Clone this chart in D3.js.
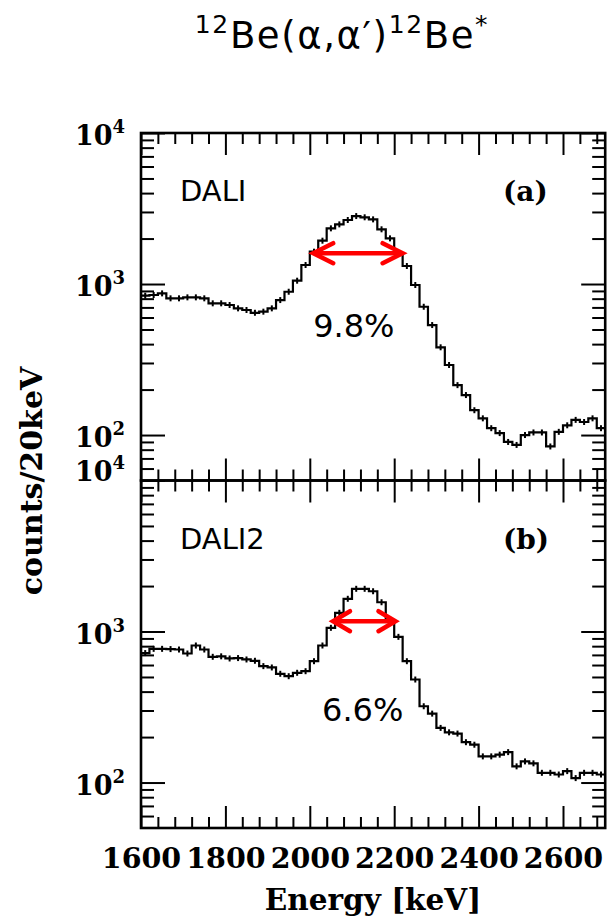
<!DOCTYPE html>
<html>
<head>
<meta charset="utf-8">
<script src="https://cdn.jsdelivr.net/npm/d3@7"></script>
<style>
  html, body { margin: 0; padding: 0; background: #fff; }
  svg { display: block; }
</style>
</head>
<body>
<svg id="chart" width="607" height="919"></svg>
<script>
// Gamma-ray energy spectra of 12Be(α,α′)12Be*, 20 keV bins from 1600 keV
const binStart = 1600;
const binWidth = 20;
const energyDomain = [1600, 2700];
const energyTicks = [1600, 1800, 2000, 2200, 2400, 2600];
const countsDomain = [50, 10000];
const decadeTicks = [100, 1000, 10000];

// (a) DALI
const countsDali = [
  837, 846, 867, 804, 804, 816, 816, 804, 745, 745,
  726, 690, 673, 645, 656, 690, 783, 889, 1052, 1336,
  1637, 1936, 2337, 2483, 2655, 2818, 2766, 2680, 2303, 2006,
  1597, 1316, 985, 707, 535, 381, 291, 214, 184, 146,
  129, 111, 103, 90, 86, 100, 104, 104, 84, 105,
  116, 126, 122, 129, 111
];

// (b) DALI2
const countsDali2 = [
  720, 768, 768, 765, 760, 715, 808, 760, 680, 685,
  663, 667, 653, 640, 590, 578, 525, 506, 533, 546,
  636, 808, 1058, 1330, 1647, 1918, 1918, 1848, 1563, 1183,
  922, 636, 481, 320, 286, 230, 215, 211, 185, 178,
  149, 149, 153, 159, 128, 138, 134, 116, 116, 113,
  119, 107, 116, 116, 113
];

const detectorNames = ["DALI", "DALI2"];
const panelTags = ["(a)", "(b)"];
const resolutionLabels = ["9.8%", "6.6%"];
// FWHM arrows: [low edge, high edge] in keV, and height in counts
const fwhmEdges = [[2008, 2220], [2055, 2203]];
const fwhmLevels = [1600, 1170];
// where the resolution text sits: [energy, counts]
const resolutionPos = [[2008, 445], [2029, 255]];

const svg = d3.select("#chart");
const left = 141, right = 605.2;
const panelTops = [133, 480.5];
const panelH = 347.5;

const x = d3.scaleLinear().domain(energyDomain).range([left, right]);

const serif = "'DejaVu Serif', serif";
const sans = "'DejaVu Sans', sans-serif";

// title with isotope superscripts
const title = svg.append("text")
  .attr("x", 342).attr("y", 48)
  .attr("text-anchor", "middle")
  .attr("font-family", sans)
  .attr("font-size", 37)
  .attr("letter-spacing", 1.6)
  .attr("fill", "#000");
function sup(t, s) {
  t.append("tspan").attr("font-size", 25).attr("dy", -15).text(s);
}
function base(t, s) {
  t.append("tspan").attr("font-size", 37).attr("dy", 15).text(s);
}
sup(title, "12");
base(title, "Be(α,α′)");
sup(title, "12");
base(title, "Be");
sup(title, "*");

const minorY = [];
[10, 100, 1000].forEach(d => {
  for (let k = 2; k <= 9; k++) {
    const v = k * d;
    if (v > countsDomain[0] && v < countsDomain[1]) minorY.push(v);
  }
});
const minorX = d3.range(1600, 2701, 40).filter(v => !energyTicks.includes(v));

const series = [countsDali, countsDali2];

series.forEach((counts, p) => {
  const top = panelTops[p];
  const bottom = top + panelH;
  const y = d3.scaleLog().domain(countsDomain).range([bottom, top]);
  const g = svg.append("g");

  // histogram steps
  const pts = counts.map((c, i) => [binStart + i * binWidth, c]);
  pts.push([binStart + counts.length * binWidth, counts[counts.length - 1]]);
  const line = d3.line()
    .x(d => x(d[0])).y(d => y(d[1]))
    .curve(d3.curveStepAfter);
  g.append("path")
    .attr("d", line(pts))
    .attr("fill", "none")
    .attr("stroke", "#000")
    .attr("stroke-width", 2.2)
    .attr("stroke-linejoin", "miter");

  // error bar ticks at bin centres
  g.selectAll("line.err").data(counts).join("line")
    .attr("class", "err")
    .attr("x1", (c, i) => x(binStart + (i + 0.5) * binWidth))
    .attr("x2", (c, i) => x(binStart + (i + 0.5) * binWidth))
    .attr("y1", c => y(c) - 3)
    .attr("y2", c => y(c) + 3)
    .attr("stroke", "#000")
    .attr("stroke-width", 2);

  // axes on all four sides, ticks pointing inward
  const ax = (gen, tx, ty) => {
    const a = g.append("g").attr("transform", `translate(${tx},${ty})`).call(gen);
    a.select(".domain").remove();
    a.selectAll("line").attr("stroke", "#000").attr("stroke-width", 2);
    return a;
  };
  ax(d3.axisLeft(y).tickValues(minorY).tickSize(-13).tickFormat(""), left, 0);
  ax(d3.axisLeft(y).tickValues(decadeTicks).tickSize(-24).tickFormat(""), left, 0);
  ax(d3.axisRight(y).tickValues(minorY).tickSize(-13).tickFormat(""), right, 0);
  ax(d3.axisRight(y).tickValues(decadeTicks).tickSize(-24).tickFormat(""), right, 0);
  ax(d3.axisTop(x).tickValues(minorX).tickSize(-11).tickFormat(""), 0, top);
  ax(d3.axisTop(x).tickValues(energyTicks).tickSize(-22).tickFormat(""), 0, top);
  ax(d3.axisBottom(x).tickValues(minorX).tickSize(-11).tickFormat(""), 0, bottom);
  const bx = ax(d3.axisBottom(x).tickValues(energyTicks).tickSize(-22)
    .tickPadding(p === 1 ? 20 : 0)
    .tickFormat(p === 1 ? d3.format("d") : ""), 0, bottom);
  bx.selectAll("text")
    .attr("font-family", serif)
    .attr("font-weight", "bold")
    .attr("font-size", 28.5)
    .attr("fill", "#000");

  // frame
  g.append("rect")
    .attr("x", left).attr("y", top)
    .attr("width", right - left).attr("height", panelH)
    .attr("fill", "none")
    .attr("stroke", "#000")
    .attr("stroke-width", 2.6);

  // decade labels 10^n; the label at the shared edge sits above its tick
  decadeTicks.forEach(v => {
    const shift = (p === 1 && v === countsDomain[1]) ? 0 : 12;
    const t = g.append("text")
      .attr("x", 125).attr("y", y(v) + shift)
      .attr("text-anchor", "end")
      .attr("font-family", serif)
      .attr("font-weight", "bold")
      .attr("font-size", 27)
      .attr("fill", "#000");
    t.append("tspan").text("10");
    t.append("tspan")
      .attr("font-size", 18)
      .attr("dy", -12)
      .text(Math.round(Math.log10(v)));
  });

  // detector name and panel tag
  g.append("text")
    .attr("x", 180).attr("y", top + 68)
    .attr("font-family", sans)
    .attr("font-size", 29)
    .attr("fill", "#000")
    .text(detectorNames[p]);
  g.append("text")
    .attr("x", 503).attr("y", top + 68)
    .attr("font-family", serif)
    .attr("font-weight", "bold")
    .attr("font-size", 28)
    .attr("fill", "#000")
    .text(panelTags[p]);

  // FWHM double arrow
  const [e0, e1] = fwhmEdges[p];
  const ay = y(fwhmLevels[p]);
  const x0 = x(e0), x1 = x(e1);
  const hl = p === 0 ? 20 : 17, hw = 10;
  const red = "#ff0000";
  g.append("line")
    .attr("x1", x0 + 2).attr("x2", x1 - 2)
    .attr("y1", ay).attr("y2", ay)
    .attr("stroke", red).attr("stroke-width", 4.5);
  g.append("path")
    .attr("d", `M${x0 + hl},${ay - hw}L${x0},${ay}L${x0 + hl},${ay + hw}`)
    .attr("fill", "none").attr("stroke", red)
    .attr("stroke-width", 4.5)
    .attr("stroke-linecap", "round").attr("stroke-linejoin", "miter");
  g.append("path")
    .attr("d", `M${x1 - hl},${ay - hw}L${x1},${ay}L${x1 - hl},${ay + hw}`)
    .attr("fill", "none").attr("stroke", red)
    .attr("stroke-width", 4.5)
    .attr("stroke-linecap", "round").attr("stroke-linejoin", "miter");

  // resolution text
  g.append("text")
    .attr("x", x(resolutionPos[p][0])).attr("y", y(resolutionPos[p][1]))
    .attr("font-family", sans)
    .attr("font-size", 32)
    .attr("fill", "#000")
    .text(resolutionLabels[p]);
});

// axis titles
svg.append("text")
  .attr("x", 373).attr("y", 910)
  .attr("text-anchor", "middle")
  .attr("font-family", serif)
  .attr("font-weight", "bold")
  .attr("font-size", 29.5)
  .attr("fill", "#000")
  .text("Energy [keV]");

svg.append("text")
  .attr("transform", "translate(42,481) rotate(-90)")
  .attr("text-anchor", "middle")
  .attr("font-family", serif)
  .attr("font-weight", "bold")
  .attr("font-size", 30)
  .attr("fill", "#000")
  .text("counts/20keV");
</script>
</body>
</html>
